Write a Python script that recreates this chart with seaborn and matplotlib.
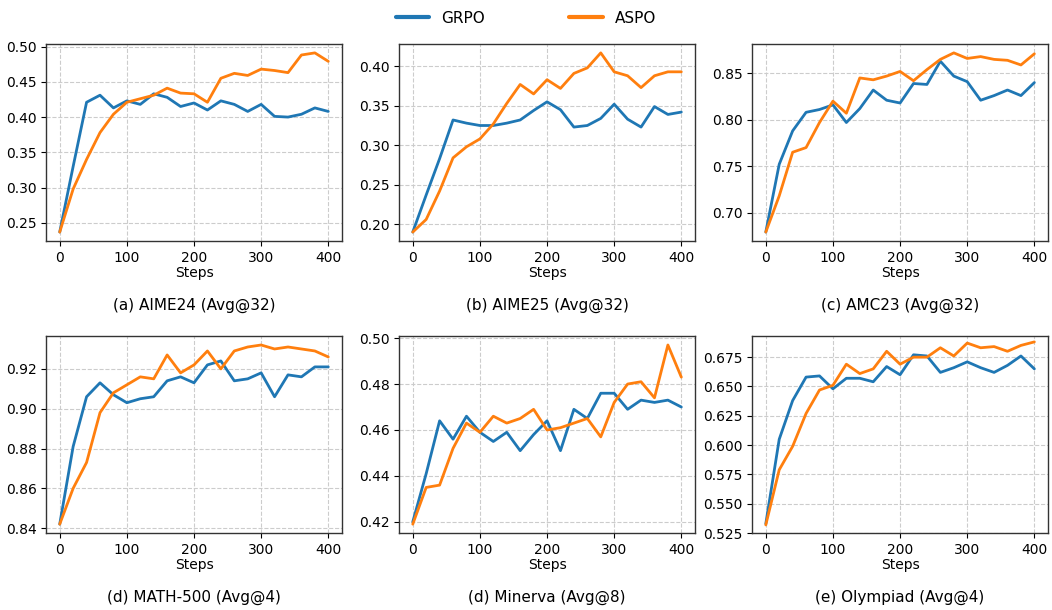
import numpy as np
import pandas as pd
import matplotlib
matplotlib.use("Agg")
import matplotlib.pyplot as plt
import seaborn as sns

steps = list(range(0, 401, 20))

aime24_grpo = [0.237, 0.330, 0.421, 0.431, 0.413, 0.423, 0.418, 0.433, 0.428, 0.415, 0.420,
               0.410, 0.423, 0.418, 0.408, 0.418, 0.401, 0.400, 0.404, 0.413, 0.408]
aime24_aspo = [0.237, 0.298, 0.340, 0.378, 0.404, 0.421, 0.426, 0.431, 0.441, 0.434, 0.433,
               0.421, 0.455, 0.462, 0.459, 0.468, 0.466, 0.463, 0.488, 0.491, 0.479]

aime25_grpo = [0.190, 0.237, 0.283, 0.332, 0.328, 0.325, 0.325, 0.328, 0.332, 0.344, 0.355,
               0.345, 0.323, 0.325, 0.334, 0.352, 0.333, 0.323, 0.349, 0.339, 0.342]
aime25_aspo = [0.190, 0.206, 0.242, 0.284, 0.298, 0.308, 0.327, 0.353, 0.377, 0.365, 0.383,
               0.372, 0.391, 0.398, 0.417, 0.393, 0.388, 0.373, 0.388, 0.393, 0.393]

amc23_grpo = [0.679, 0.752, 0.788, 0.808, 0.811, 0.816, 0.797, 0.812, 0.832, 0.821, 0.818,
              0.839, 0.838, 0.863, 0.847, 0.841, 0.821, 0.826, 0.832, 0.826, 0.840]
amc23_aspo = [0.679, 0.718, 0.765, 0.770, 0.797, 0.820, 0.807, 0.845, 0.843, 0.847, 0.852,
              0.842, 0.854, 0.865, 0.872, 0.866, 0.868, 0.865, 0.864, 0.859, 0.871]

math500_grpo = [0.842, 0.881, 0.906, 0.913, 0.907, 0.903, 0.905, 0.906, 0.914, 0.916, 0.913,
                0.922, 0.924, 0.914, 0.915, 0.918, 0.906, 0.917, 0.916, 0.921, 0.921]
math500_aspo = [0.842, 0.860, 0.873, 0.898, 0.908, 0.912, 0.916, 0.915, 0.927, 0.918, 0.922,
                0.929, 0.920, 0.929, 0.931, 0.932, 0.930, 0.931, 0.930, 0.929, 0.926]

minerva_grpo = [0.420, 0.441, 0.464, 0.456, 0.466, 0.459, 0.455, 0.459, 0.451, 0.458, 0.464,
                0.451, 0.469, 0.465, 0.476, 0.476, 0.469, 0.473, 0.472, 0.473, 0.470]
minerva_aspo = [0.419, 0.435, 0.436, 0.452, 0.463, 0.459, 0.466, 0.463, 0.465, 0.469, 0.460,
                0.461, 0.463, 0.465, 0.457, 0.472, 0.480, 0.481, 0.474, 0.497, 0.483]

olympiad_grpo = [0.533, 0.605, 0.638, 0.658, 0.659, 0.648, 0.657, 0.657, 0.654, 0.667, 0.660,
                 0.677, 0.676, 0.662, 0.666, 0.671, 0.666, 0.662, 0.668, 0.676, 0.665]
olympiad_aspo = [0.532, 0.579, 0.599, 0.627, 0.647, 0.651, 0.669, 0.661, 0.665, 0.680, 0.669,
                 0.675, 0.675, 0.683, 0.676, 0.687, 0.683, 0.684, 0.680, 0.685, 0.688]

titles = ["(a) AIME24 (Avg@32)", "(b) AIME25 (Avg@32)", "(c) AMC23 (Avg@32)",
          "(d) MATH-500 (Avg@4)", "(d) Minerva (Avg@8)", "(e) Olympiad (Avg@4)"]
series = [(aime24_grpo, aime24_aspo), (aime25_grpo, aime25_aspo), (amc23_grpo, amc23_aspo),
          (math500_grpo, math500_aspo), (minerva_grpo, minerva_aspo), (olympiad_grpo, olympiad_aspo)]
methods = ["GRPO", "ASPO"]
colors = {"GRPO": "#1f77b4", "ASPO": "#ff7f0e"}

sns.set_style("white")
plt.rcParams['font.family'] = ['DejaVu Sans']
plt.rcParams['text.color'] = 'black'
plt.rcParams['axes.labelcolor'] = 'black'
plt.rcParams['xtick.color'] = 'black'
plt.rcParams['ytick.color'] = 'black'

fig, axes = plt.subplots(2, 3, figsize=(10.52, 6.10), dpi=100)
fig.subplots_adjust(left=0.044, right=0.996, top=0.928, bottom=0.126, wspace=0.195, hspace=0.482)

for ax, title, (g, a) in zip(axes.flat, titles, series):
    df = pd.DataFrame({
        "Steps": steps + steps,
        "value": g + a,
        "method": ["GRPO"] * len(steps) + ["ASPO"] * len(steps),
    })
    sns.lineplot(data=df, x="Steps", y="value", hue="method", hue_order=methods,
                 palette=colors, linewidth=2, ax=ax, legend=False)
    ax.set_ylabel("")
    ax.set_xlabel("Steps", fontsize=10, labelpad=1)
    ax.set_xticks([0, 100, 200, 300, 400])
    ax.set_xlim(-20, 420)
    ax.grid(True, linestyle="--", color="#cccccc", linewidth=0.8)
    ax.tick_params(axis="both", labelsize=10, length=3.5, width=0.8, left=True, bottom=True)
    for s in ax.spines.values():
        s.set_color("#333333")
        s.set_linewidth(1.0)
    ax.text(0.5, -0.325, title, transform=ax.transAxes, ha="center", va="center", fontsize=11)

axes[0, 0].set_yticks([0.25, 0.30, 0.35, 0.40, 0.45, 0.50])
axes[0, 1].set_yticks([0.20, 0.25, 0.30, 0.35, 0.40])
axes[0, 2].set_yticks([0.70, 0.75, 0.80, 0.85])
axes[1, 0].set_yticks([0.84, 0.86, 0.88, 0.90, 0.92])
axes[1, 1].set_yticks([0.42, 0.44, 0.46, 0.48, 0.50])
axes[1, 2].set_yticks([0.525, 0.550, 0.575, 0.600, 0.625, 0.650, 0.675])
axes[1, 2].set_ylim(0.525, 0.693)
for ax in axes.flat[:5]:
    ax.yaxis.set_major_formatter(matplotlib.ticker.FormatStrFormatter("%.2f"))
axes[1, 2].yaxis.set_major_formatter(matplotlib.ticker.FormatStrFormatter("%.3f"))

from matplotlib.lines import Line2D
handles = [Line2D([0], [0], color=colors[m], linewidth=3) for m in methods]
fig.legend(handles, methods, loc="upper center", bbox_to_anchor=(0.5, 1.005), ncol=2,
           frameon=False, fontsize=11, columnspacing=5.5, handlelength=2.2)

fig.savefig("out.png", dpi=100)
